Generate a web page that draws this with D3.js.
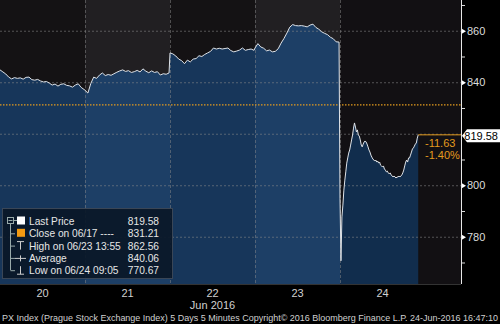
<!DOCTYPE html>
<html><head><meta charset="utf-8">
<script src="https://cdn.jsdelivr.net/npm/d3@7"></script>
<style>
html,body{margin:0;padding:0;background:#000;}
svg{display:block;}
text{font-family:"Liberation Sans",Arial,sans-serif;}
</style></head>
<body><svg id="c" width="500" height="324"></svg>
<script>
// ---- data ----
const dayLabels = ["20","21","22","23","24"];
const monthLabel = "Jun 2016";
const dayStepMinutes = [15,15,15,15,5];
const sessionMinutes = 440;
const jun20 = [844.8,844.0,843.2,842.0,841.3,841.8,841.5,841.7,841.2,841.9,842.0,841.0,840.8,841.1,840.5,840.1,840.3,839.7,838.9,839.3,838.5,839.2,839.4,838.8,838.6,838.1,838.9,839.4,838.0,837.2];
const jun21 = [836.9,835.8,839.5,842.0,841.5,842.8,843.6,842.6,843.0,842.7,843.3,843.9,844.4,844.8,844.2,844.5,843.8,844.1,844.6,844.0,845.2,844.3,843.7,844.4,843.8,844.1,842.8,843.3,843.1,843.6];
const jun22 = [851.4,851.0,850.2,849.0,848.4,847.2,848.6,847.9,849.0,849.2,850.3,850.0,850.8,851.4,852.0,853.3,852.9,853.2,852.9,853.1,853.3,852.3,851.8,852.1,852.5,853.3,852.4,852.7,852.9,852.4];
const jun23 = [853.3,855.0,853.7,853.2,852.2,852.5,851.8,852.0,853.0,855.2,857.0,859.1,861.4,862.4,862.0,861.9,862.0,861.8,861.5,862.2,862.56,861.3,860.6,859.6,859.0,858.5,857.5,856.9,855.7,855.6];
const jun24 = [795.0,770.67,787.7,792.3,798.1,802.0,805.2,808.6,810.6,812.5,813.7,815.6,817.6,819.5,822.2,824.2,822.6,820.7,821.5,819.5,819.1,817.6,815.6,814.9,816.0,816.8,817.2,816.8,816.0,814.9,813.7,812.9,811.7,810.9,810.2,809.8,809.4,809.8,809.0,809.4,808.6,809.0,807.8,807.5,807.1,807.5,806.3,805.9,805.2,805.5,804.8,804.4,804.8,804.0,803.6,803.2,803.6,803.2,802.8,803.2,803.2,803.6,803.2,803.6,804.0,804.8,805.9,807.5,809.0,809.8,809.0,810.6,810.6,811.7,812.9,814.1,814.5,815.2,816.0,816.4,818.3,819.58];
const daySeries = [jun20, jun21, jun22, jun23, jun24];
const majorTicks = [780,800,820,840,860];
const minorTicks = [770,790,810,830,850,870];
const closePrice = 831.21;
const lastPrice = 819.58;
const netChange = "-11.63";
const pctChange = "-1.40%";
const legendLabels = ["Last Price","Close on 06/17 ----","High on 06/23 13:55","Average","Low on 06/24 09:05"];
const legendValues = ["819.58","831.21","862.56","840.06","770.67"];
const footer = "PX Index (Prague Stock Exchange Index) 5 Days 5 Minutes  Copyright\u00A9 2016 Bloomberg Finance L.P.  24-Jun-2016 16:47:10";

// ---- layout ----
const svg = d3.select("#c");
const plotL = 0, plotR = 461, plotT = 0, plotB = 284;
const x = d3.scaleLinear().domain([0,5]).range([0,425]);
const y = d3.scaleLinear().domain([761.65,871.94]).range([plotB,plotT]);

svg.append("rect").attr("width",500).attr("height",324).attr("fill","#000");

// day bands
const bandBg = ["#141214","#211f22","#141214","#211f22","#121013"];
const bandFill = ["#17365a","#1d3f66","#17365a","#1d3f66","#112d4d"];
dayLabels.forEach((d,i)=>{
  svg.append("rect").attr("x",x(i)).attr("y",plotT).attr("width",x(i+1)-x(i)).attr("height",plotB-plotT).attr("fill",bandBg[i]);
});
svg.append("rect").attr("x",x(5)).attr("y",plotT).attr("width",plotR-x(5)).attr("height",plotB-plotT).attr("fill",bandBg[4]);

// points
const pts = [];
daySeries.forEach((arr,d)=>arr.forEach((v,i)=>pts.push({t:d+i*dayStepMinutes[d]/sessionMinutes, v})));

const defs = svg.append("defs");
dayLabels.forEach((d,i)=>{
  defs.append("clipPath").attr("id","cl"+i).append("rect")
    .attr("x",x(i)).attr("y",plotT).attr("width",x(i+1)-x(i)).attr("height",plotB-plotT);
});
const area = d3.area().x(p=>x(p.t)).y0(plotB).y1(p=>y(p.v));
dayLabels.forEach((d,i)=>{
  svg.append("path").datum(pts).attr("d",area).attr("fill",bandFill[i]).attr("clip-path","url(#cl"+i+")");
});

// gridlines
svg.append("g").selectAll("line").data(majorTicks).join("line")
  .attr("x1",plotL).attr("x2",plotR).attr("y1",v=>y(v)+0.5).attr("y2",v=>y(v)+0.5)
  .attr("stroke","#8a8a8a").attr("stroke-opacity",0.55).attr("stroke-dasharray","2,2");
svg.append("g").selectAll("line").data(d3.range(1,5)).join("line")
  .attr("x1",d=>x(d)+0.5).attr("x2",d=>x(d)+0.5).attr("y1",plotT).attr("y2",plotB)
  .attr("stroke","#8a8a8a").attr("stroke-opacity",0.5).attr("stroke-dasharray","3,2");

// close line
svg.append("line").attr("x1",plotL).attr("x2",plotR).attr("y1",y(closePrice)).attr("y2",y(closePrice))
  .attr("stroke","#e39b1e").attr("stroke-width",1.2).attr("stroke-dasharray","1.5,1.5");

// price line
const line = d3.line().x(p=>x(p.t)).y(p=>y(p.v));
svg.append("path").datum(pts).attr("d",line).attr("fill","none").attr("stroke","#dfe3e8").attr("stroke-width",1);

// last price level line
const lastT = pts[pts.length-1].t;
svg.append("line").attr("x1",x(lastT)).attr("x2",plotR).attr("y1",y(lastPrice)).attr("y2",y(lastPrice))
  .attr("stroke","#e39b1e").attr("stroke-width",1);
svg.append("text").attr("x",425).attr("y",y(lastPrice)+12).attr("fill","#e39b1e").attr("font-size",11).text(netChange);
svg.append("text").attr("x",425).attr("y",y(lastPrice)+24).attr("fill","#e39b1e").attr("font-size",11).text(pctChange);

// right axis
const ax = svg.append("g").attr("transform",`translate(${plotR},0)`)
  .call(d3.axisRight(y).tickValues(majorTicks.filter(v=>v!==820)).tickSize(0).tickPadding(6).tickFormat(d3.format("d")));
ax.select(".domain").remove();
ax.selectAll("text").attr("fill","#dcdcdc").attr("font-size",11).attr("font-family","Liberation Sans, Arial, sans-serif");
ax.selectAll(".tick").append("path").attr("d","M0,-3L5,0L0,3Z").attr("fill","#fff");
const axMinor = svg.append("g").attr("transform",`translate(${plotR},0)`)
  .call(d3.axisRight(y).tickValues(minorTicks).tickSize(4).tickFormat(""));
axMinor.select(".domain").remove();
axMinor.selectAll("line").attr("stroke","#ddd");
svg.append("line").attr("x1",plotR+0.5).attr("x2",plotR+0.5).attr("y1",plotT).attr("y2",plotB).attr("stroke","#e8e8e8");

// last price tag
const ly = y(lastPrice);
svg.append("path").attr("d",`M${plotR+1},${ly+1}L${plotR+6},${ly-5.5}L500,${ly-5.5}L500,${ly+7.5}L${plotR+6},${ly+7.5}Z`).attr("fill","#fff");
svg.append("text").attr("x",498).attr("y",ly+5.5).attr("text-anchor","end").attr("fill","#000").attr("font-size",11).text(lastPrice.toFixed(2));

// x axis labels
svg.append("line").attr("x1",plotL).attr("x2",plotR).attr("y1",plotB+0.5).attr("y2",plotB+0.5).attr("stroke","#333");
svg.append("g").selectAll("text").data(dayLabels).join("text")
  .attr("x",(d,i)=>x(i+0.5)).attr("y",297).attr("text-anchor","middle").attr("fill","#d0d0d0").attr("font-size",11).text(d=>d);
svg.append("text").attr("x",x(2.5)).attr("y",309).attr("text-anchor","middle").attr("fill","#d0d0d0").attr("font-size",11).text(monthLabel);
svg.append("text").attr("x",2).attr("y",321).attr("fill","#d0d0d0").attr("font-size",9)
  .attr("textLength",496).attr("lengthAdjust","spacingAndGlyphs").text(footer);

// legend
const lg = svg.append("g");
lg.append("rect").attr("x",2.5).attr("y",208.5).attr("width",170).attr("height",70).attr("fill","#0a1727").attr("fill-opacity",0.92).attr("stroke","#3a4656");
const rowY = i=>221+i*12.3;
// tree
lg.append("rect").attr("x",7.5).attr("y",rowY(0)-3.5).attr("width",6).attr("height",6).attr("fill","none").attr("stroke","#9aa");
lg.append("line").attr("x1",8.5).attr("x2",12.5).attr("y1",rowY(0)-0.5).attr("y2",rowY(0)-0.5).attr("stroke","#9aa");
lg.append("line").attr("x1",10.5).attr("x2",10.5).attr("y1",rowY(0)+3).attr("y2",rowY(4)).attr("stroke","#9aa");
[1,2,3,4].forEach(i=>lg.append("line").attr("x1",10.5).attr("x2",15).attr("y1",rowY(i)+0.5).attr("y2",rowY(i)+0.5).attr("stroke","#9aa"));
lg.append("line").attr("x1",13).attr("x2",17).attr("y1",rowY(0)-0.5).attr("y2",rowY(0)-0.5).attr("stroke","#9aa");
lg.append("rect").attr("x",17).attr("y",rowY(0)-4.5).attr("width",8).attr("height",8).attr("fill","#fff");
lg.append("rect").attr("x",17).attr("y",rowY(1)-4.5).attr("width",8).attr("height",8).attr("fill","#f39a12");
// high T
lg.append("path").attr("d",`M17,${rowY(2)-4}L24,${rowY(2)-4}M20.5,${rowY(2)-4}L20.5,${rowY(2)+4}`).attr("stroke","#ccc").attr("fill","none");
// avg +
lg.append("path").attr("d",`M15,${rowY(3)+0.5}L26,${rowY(3)+0.5}M20.5,${rowY(3)-2.5}L20.5,${rowY(3)+3.5}`).attr("stroke","#ccc").attr("fill","none");
// low ⊥
lg.append("path").attr("d",`M17,${rowY(4)+4}L24,${rowY(4)+4}M20.5,${rowY(4)-4}L20.5,${rowY(4)+4}`).attr("stroke","#ccc").attr("fill","none");
lg.selectAll("text.l").data(legendLabels).join("text").attr("class","l")
  .attr("x",29).attr("y",(d,i)=>rowY(i)+4).attr("fill","#e6e6e6").attr("font-size",10.2).text(d=>d);
lg.selectAll("text.v").data(legendValues).join("text").attr("class","v")
  .attr("x",159).attr("y",(d,i)=>rowY(i)+4).attr("text-anchor","end").attr("fill","#e6e6e6").attr("font-size",10.2).text(d=>d);
</script></body></html>
